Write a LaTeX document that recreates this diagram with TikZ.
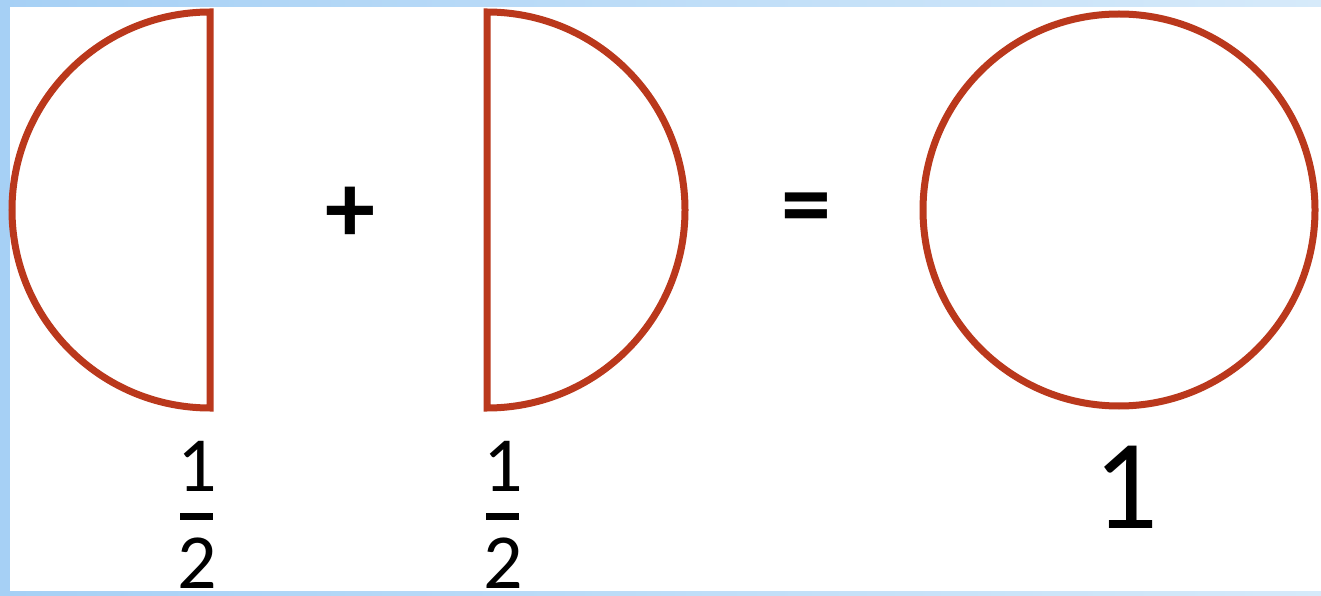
\documentclass[tikz,border=0pt]{standalone}
\usepackage{fontspec}
\setmainfont{Carlito}
\definecolor{shape}{RGB}{186,56,28}
\definecolor{bgblue}{RGB}{166,208,245}
\definecolor{bglight}{RGB}{214,234,250}
\begin{document}
\begin{tikzpicture}[x=1pt,y=1pt,
  outline/.style={draw=shape,line width=7pt,line join=miter},
  digit/.style={inner sep=0pt,font=\fontsize{78}{78}\selectfont},
  sign/.style={inner sep=0pt,font=\fontsize{100}{100}\selectfont\bfseries},
  bar/.style={fill=black}]
\useasboundingbox (0,0) rectangle (1321,595);
% background frame
\fill[left color=bgblue,right color=bglight] (0,0) rectangle (1321,595);
\fill[white] (10,4) rectangle (1321,588);
% left half
\draw[outline] (210,187) -- (210,583) arc[start angle=90,end angle=270,radius=198] -- cycle;
% right half
\draw[outline] (487,187) -- (487,583) arc[start angle=90,end angle=-90,radius=198] -- cycle;
% full circle
\draw[outline] (1119,385) circle[radius=196];
% signs
\node[sign] (plus) at (350,380) {+};
\node[sign] (eq) at (806,380) {=};
% fractions
\node[digit] (n1) at (197,129) {1};
\fill[bar] (180,75) rectangle (213,82);
\node[digit] (d1) at (197,32) {2};
\node[digit] (n2) at (503,129) {1};
\fill[bar] (486,75) rectangle (519,82);
\node[digit] (d2) at (503,32) {2};
\node[inner sep=0pt,font=\fontsize{128}{128}\selectfont] (one) at (1126,108) {1};
\end{tikzpicture}
\end{document}
